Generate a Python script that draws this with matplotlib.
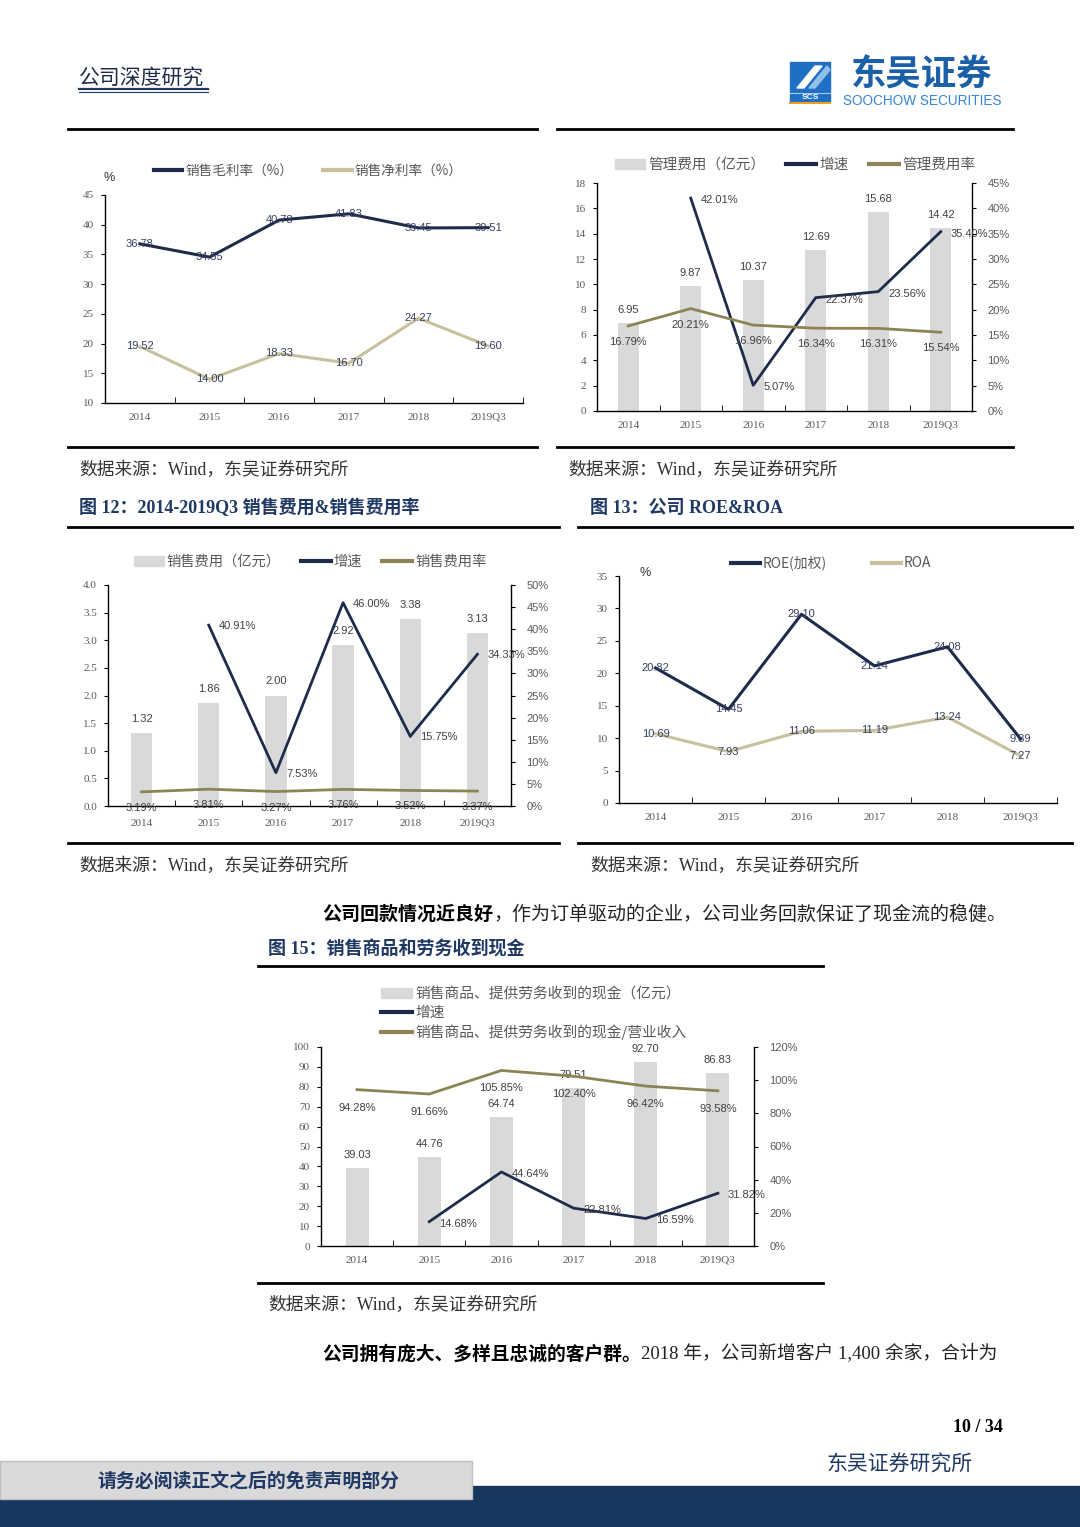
import matplotlib
matplotlib.use('Agg')
import matplotlib.pyplot as plt
from matplotlib.lines import Line2D
from matplotlib.patches import Rectangle, Patch, Polygon
from matplotlib.ticker import FuncFormatter, MultipleLocator
import numpy as np

# page size in pixels
W, H = 1080, 1527

years = ['2014', '2015', '2016', '2017', '2018', '2019Q3']

# chart 1: margins (%)
gross_margin = [36.78, 34.55, 40.78, 41.83, 39.45, 39.51]
net_margin = [19.52, 14.00, 18.33, 16.70, 24.27, 19.60]

# chart 2: admin expense
admin_exp = [6.95, 9.87, 10.37, 12.69, 15.68, 14.42]
admin_growth = [np.nan, 42.01, 5.07, 22.37, 23.56, 35.40]
admin_rate = [16.79, 20.21, 16.96, 16.34, 16.31, 15.54]

# chart 3 (fig 12): selling expense
sell_exp = [1.32, 1.86, 2.00, 2.92, 3.38, 3.13]
sell_growth = [np.nan, 40.91, 7.53, 46.00, 15.75, 34.33]
sell_rate = [3.19, 3.81, 3.27, 3.76, 3.52, 3.37]

# chart 4 (fig 13): ROE & ROA
roe = [20.82, 14.45, 29.10, 21.14, 24.08, 9.89]
roa = [10.69, 7.93, 11.06, 11.19, 13.24, 7.27]

# chart 5 (fig 15): cash from sales
cash = [39.03, 44.76, 64.74, 79.51, 92.70, 86.83]
cash_growth = [np.nan, 14.68, 44.64, 22.81, 16.59, 31.82]
cash_ratio = [94.28, 91.66, 105.85, 102.40, 96.42, 93.58]

NAVY = '#1f2b4a'
KHAKI = '#c9c09e'
OLIVE = '#8c8454'
BAR = '#d9d9d9'
GREY = '#595959'
LBL = '#404040'
LBL_BLUE = '#34405f'

CJK = ['Noto Sans CJK SC', 'DejaVu Sans']
MIX = ['Liberation Serif', 'Noto Sans CJK SC']
SANS = 'Liberation Sans'

plt.rcParams['font.family'] = MIX
plt.rcParams['axes.linewidth'] = 1.0

fig = plt.figure(figsize=(W / 100, H / 100), dpi=100)
renderer = fig.canvas.get_renderer()


def px_ax(x0, y0, x1, y1):
    return fig.add_axes([x0 / W, 1 - y1 / H, (x1 - x0) / W, (y1 - y0) / H])


def ftext(x, y, s, **kw):
    kw.setdefault('va', 'center')
    return fig.text(x / W, 1 - y / H, s, **kw)


def chain(x, y, parts, size):
    # consecutive runs of text: (string, bold?)
    for s, bold in parts:
        t = ftext(x, y, s, fontsize=size, color='black' if bold else '#222222',
                  fontweight='bold' if bold else 'normal')
        x = t.get_window_extent(renderer).x1


def hline(x0, x1, y, lw=2.0, color='black'):
    fig.add_artist(Line2D([x0 / W, x1 / W], [1 - y / H, 1 - y / H],
                          color=color, lw=lw, transform=fig.transFigure))


def style(ax):
    for s in ['top', 'right']:
        ax.spines[s].set_visible(False)
    ax.set_xlim(-0.5, 5.5)
    ax.set_xticks(range(6))
    ax.set_xticklabels(years, fontsize=8, color=GREY)
    ax.set_xticks(np.arange(-0.5, 6, 1), minor=True)
    ax.tick_params(axis='x', which='major', length=0, pad=7)
    ax.tick_params(axis='x', which='minor', direction='in', length=4)
    ax.tick_params(axis='y', direction='out', length=3, labelsize=8,
                   labelcolor=GREY, pad=5)


def right_axis(ax, top, step):
    ax2 = ax.twinx()
    ax2.set_ylim(0, top)
    ax2.yaxis.set_major_locator(MultipleLocator(step))
    ax2.yaxis.set_major_formatter(FuncFormatter(lambda v, p: f'{v:.0f}%'))
    for s in ['top', 'left', 'bottom']:
        ax2.spines[s].set_visible(False)
    ax2.tick_params(axis='y', direction='out', length=3, labelsize=8,
                    labelcolor=GREY, pad=8)
    for lab in ax2.get_yticklabels():
        lab.set_fontfamily(SANS)
    return ax2


def label(ax, x, y, s, dx=0, dy=0, color=LBL, ha='center'):
    ax.annotate(s, (x, y), xytext=(dx * 0.72, -dy * 0.72), textcoords='offset points',
                ha=ha, va='center', fontsize=8, color=color, fontfamily=SANS)


def legend(ax, handles, labels, cx, cy, ncol, loc='center', colsp=1.6, size=9, **kw):
    lg = ax.legend(handles, labels, loc=loc, bbox_to_anchor=(cx / W, 1 - cy / H),
                   bbox_transform=fig.transFigure, ncol=ncol, frameon=False,
                   handlelength=2.1, handletextpad=0.2, columnspacing=colsp,
                   prop={'family': CJK, 'size': size}, labelcolor=GREY, **kw)
    return lg


x = np.arange(6)

# ---------------- chart 1: gross / net margin ----------------
ax = px_ax(105, 195, 523, 403)
style(ax)
ax.set_ylim(10, 45)
ax.yaxis.set_major_locator(MultipleLocator(5))
ax.plot(x, gross_margin, color=NAVY, lw=2.2)
ax.plot(x, net_margin, color=KHAKI, lw=2.2)
for i in range(6):
    label(ax, i, gross_margin[i], f'{gross_margin[i]:.2f}', color=LBL_BLUE)
    label(ax, i, net_margin[i], f'{net_margin[i]:.2f}', color=LBL_BLUE)
legend(ax, [Line2D([], [], color=NAVY, lw=3), Line2D([], [], color=KHAKI, lw=3)],
       ['销售毛利率（%）', '销售净利率（%）'], 308, 171, 2, colsp=2.2, size=9.8)
ftext(103, 178, '%', fontsize=9, color='#333333', fontfamily=SANS)

# ---------------- chart 2: admin expense ----------------
ax = px_ax(597, 183, 972, 411)
style(ax)
ax.set_ylim(0, 18)
ax.yaxis.set_major_locator(MultipleLocator(2))
ax.bar(x, admin_exp, width=0.33, color=BAR)
for i in range(6):
    label(ax, i, admin_exp[i], f'{admin_exp[i]:.2f}', dy=-13)
ax2 = right_axis(ax, 45, 5)
ax2.plot(x, admin_growth, color=NAVY, lw=2.0)
ax2.plot(x, admin_rate, color=OLIVE, lw=2.0)
for i in range(6):
    if not np.isnan(admin_growth[i]):
        label(ax2, i, admin_growth[i], f'{admin_growth[i]:.2f}%', dx=10, dy=2, ha='left')
    label(ax2, i, admin_rate[i], f'{admin_rate[i]:.2f}%', dy=16)
legend(ax2, [Patch(color=BAR), Line2D([], [], color=NAVY, lw=3), Line2D([], [], color=OLIVE, lw=3)],
       ['管理费用（亿元）', '增速', '管理费用率'], 795, 165, 3, colsp=1.4, size=10.5)

# ---------------- chart 3: selling expense ----------------
ax = px_ax(108, 585, 511, 806)
style(ax)
ax.set_ylim(0, 4)
ax.yaxis.set_major_locator(MultipleLocator(0.5))
ax.yaxis.set_major_formatter(FuncFormatter(lambda v, p: f'{v:.1f}'))
ax.tick_params(axis='x', which='major', pad=9)
ax.bar(x, sell_exp, width=0.32, color=BAR)
for i in range(6):
    label(ax, i, sell_exp[i], f'{sell_exp[i]:.2f}', dy=-14)
ax2 = right_axis(ax, 50, 5)
ax2.plot(x, sell_growth, color=NAVY, lw=2.0)
ax2.plot(x, sell_rate, color=OLIVE, lw=2.0)
for i in range(6):
    if not np.isnan(sell_growth[i]):
        label(ax2, i, sell_growth[i], f'{sell_growth[i]:.2f}%', dx=10, dy=1, ha='left')
    label(ax2, i, sell_rate[i], f'{sell_rate[i]:.2f}%', dy=16)
legend(ax2, [Patch(color=BAR), Line2D([], [], color=NAVY, lw=3), Line2D([], [], color=OLIVE, lw=3)],
       ['销售费用（亿元）', '增速', '销售费用率'], 310, 562, 3, colsp=1.4, size=10.3)

# ---------------- chart 4: ROE & ROA ----------------
ax = px_ax(619, 576, 1057, 803)
style(ax)
ax.set_ylim(0, 35)
ax.yaxis.set_major_locator(MultipleLocator(5))
ax.plot(x, roe, color=NAVY, lw=2.2)
ax.plot(x, roa, color=KHAKI, lw=2.2)
for i in range(6):
    label(ax, i, roe[i], f'{roe[i]:.2f}', color=LBL_BLUE)
    label(ax, i, roa[i], f'{roa[i]:.2f}', color=LBL_BLUE)
legend(ax, [Line2D([], [], color=NAVY, lw=3), Line2D([], [], color=KHAKI, lw=3)],
       ['ROE(加权)', 'ROA'], 831, 563, 2, colsp=3.2, size=10)
ftext(640, 573, '%', fontsize=9, color='#333333', fontfamily=SANS)

# ---------------- chart 5: cash from sales ----------------
ax = px_ax(321, 1047, 754, 1246)
style(ax)
ax.set_ylim(0, 100)
ax.yaxis.set_major_locator(MultipleLocator(10))
ax.bar(x, cash, width=0.32, color=BAR)
for i in range(6):
    label(ax, i, cash[i], f'{cash[i]:.2f}', dy=-13)
ax2 = right_axis(ax, 120, 20)
ax2.plot(x, cash_growth, color=NAVY, lw=2.0)
ax2.plot(x, cash_ratio, color=OLIVE, lw=2.0)
for i in range(6):
    if not np.isnan(cash_growth[i]):
        label(ax2, i, cash_growth[i], f'{cash_growth[i]:.2f}%', dx=10, dy=2, ha='left')
    label(ax2, i, cash_ratio[i], f'{cash_ratio[i]:.2f}%', dy=18)
legend(ax2, [Patch(color=BAR), Line2D([], [], color=NAVY, lw=3), Line2D([], [], color=OLIVE, lw=3)],
       ['销售商品、提供劳务收到的现金（亿元）', '增速', '销售商品、提供劳务收到的现金/营业收入'],
       368, 974, 1, loc='upper left', labelspacing=0.3, size=10.6)

# ---------------- page frame ----------------
ftext(79, 78, '公司深度研究', fontsize=15, color='#1f2b4a', fontfamily=CJK)
hline(79, 208, 89, lw=1.6, color='#1f3864')
hline(79, 208, 92, lw=0.8, color='#1f3864')

# logo
fig.add_artist(Rectangle((790 / W, 1 - 92 / H), 40 / W, 30 / H, color='#1f6fc5',
                         transform=fig.transFigure))
fig.add_artist(Polygon([[797 / W, 1 - 88 / H], [815 / W, 1 - 66 / H], [822 / W, 1 - 66 / H], [804 / W, 1 - 88 / H]],
                       closed=True, color='white', transform=fig.transFigure))
fig.add_artist(Polygon([[809 / W, 1 - 88 / H], [827 / W, 1 - 66 / H], [830 / W, 1 - 70 / H], [815 / W, 1 - 88 / H]],
                       closed=True, color='#8fc0ea', transform=fig.transFigure))
fig.add_artist(Rectangle((790 / W, 1 - 101 / H), 40 / W, 7 / H, color='#1f6fc5',
                         transform=fig.transFigure))
ftext(810, 97.5, 'SCS', fontsize=6, color='white', fontweight='bold', ha='center', fontfamily=SANS)
hline(790, 830, 103, lw=1.5, color='#f0a020')
ftext(922, 75, '东吴证券', fontsize=25.5, color='#1a5fa8', fontweight='heavy', ha='center', fontfamily=CJK)
ftext(922, 101, 'SOOCHOW SECURITIES', fontsize=9.8, color='#3585d6', ha='center', fontfamily=SANS)

hline(68, 537, 129)
hline(557, 1013, 129)
hline(68, 537, 447)
hline(557, 1013, 447)
ftext(79, 470, '数据来源：Wind，东吴证券研究所', fontsize=12.8, color='#333333')
ftext(568, 470, '数据来源：Wind，东吴证券研究所', fontsize=12.8, color='#333333')

ftext(79, 508, '图 12：2014-2019Q3 销售费用&销售费用率', fontsize=13, color='#1f3864', fontweight='bold')
ftext(590, 508, '图 13：公司 ROE&ROA', fontsize=13, color='#1f3864', fontweight='bold')
hline(68, 559, 527)
hline(578, 1072, 527)
hline(68, 559, 843)
hline(578, 1072, 843)
ftext(79, 866, '数据来源：Wind，东吴证券研究所', fontsize=12.8, color='#333333')
ftext(590, 866, '数据来源：Wind，东吴证券研究所', fontsize=12.8, color='#333333')

chain(322, 915, [('公司回款情况近良好', True),
                 ('，作为订单驱动的企业，公司业务回款保证了现金流的稳健。', False)], 13.7)
ftext(268, 950, '图 15：销售商品和劳务收到现金', fontsize=13, color='#1f3864', fontweight='bold')
hline(258, 823, 966)
hline(258, 823, 1283)
ftext(268, 1305, '数据来源：Wind，东吴证券研究所', fontsize=12.8, color='#333333')

chain(322, 1354, [('公司拥有庞大、多样且忠诚的客户群。', True),
                  ('2018 年，公司新增客户 1,400 余家，合计为', False)], 13.5)

ftext(1003, 1428, '10 / 34', fontsize=13, color='black', fontweight='bold', ha='right')

# footer
fig.add_artist(Rectangle((0, 0), 1, (H - 1486) / H, color='#17375e', transform=fig.transFigure))
fig.add_artist(Rectangle((0, 1 - 1499 / H), 472 / W, 38 / H, color='#d9d9d9',
                         ec='#bfbfbf', lw=1, transform=fig.transFigure))
ftext(248, 1481, '请务必阅读正文之后的免责声明部分', fontsize=13.6, color='#1f3864',
      fontweight='bold', ha='center', fontfamily=CJK)
ftext(900, 1465, '东吴证券研究所', fontsize=15, color='#1f3864', ha='center', fontfamily=CJK)

fig.savefig('out.png', dpi=100)
